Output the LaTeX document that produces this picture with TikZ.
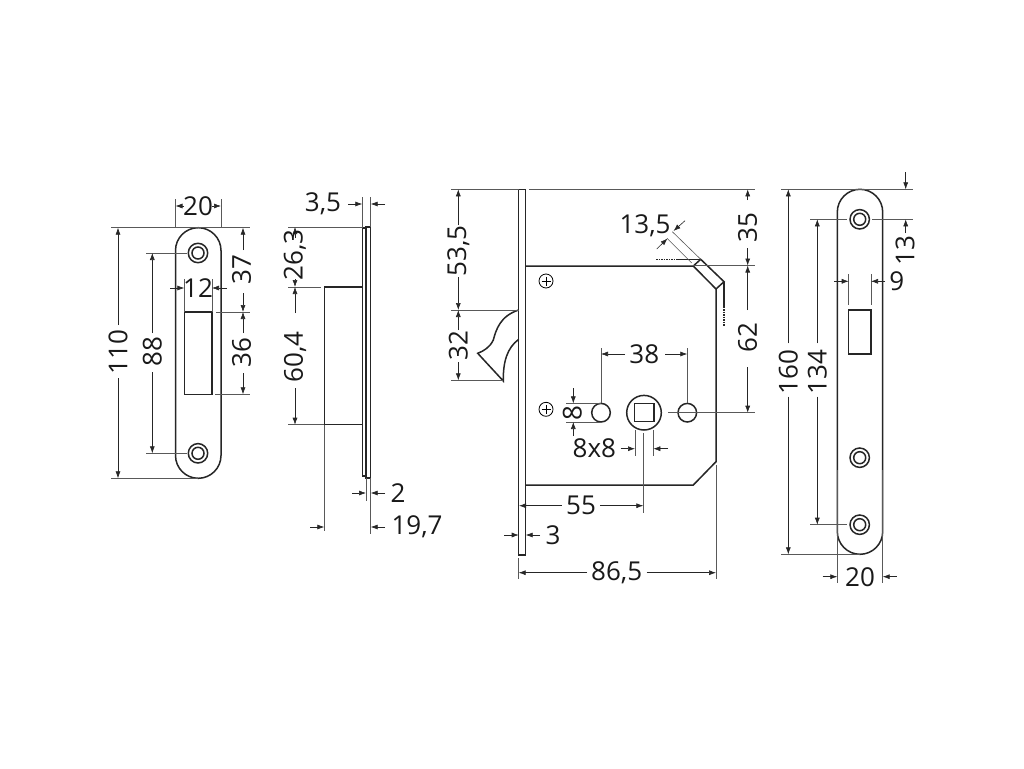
\documentclass[tikz,border=0pt]{standalone}
\usepackage{fontspec}
\setmainfont{Open Sans}
\usetikzlibrary{arrows.meta}
\tikzset{
    part/.style={line width=1.5pt,draw=black!85},
    extline/.style={line width=0.6pt,draw=black!65},
    dimline/.style={line width=0.6pt,draw=black!85,-{Latex[length=7pt,width=5pt]}},
    dimtext/.style={inner sep=0pt,font=\fontsize{26}{26}\selectfont,text=black!90},
    dimrot/.style={dimtext,rotate=90},
}
\begin{document}
\begin{tikzpicture}[x=1pt,y=-1pt]
    \useasboundingbox (0,0) rectangle (1024,768);
    \fill[white] (0,0) rectangle (1024,768);

    % strike plate, front
    \draw[part,rounded corners=22.8pt] (175.5,227.7) rectangle (221,478.3);
    \draw[part] (184.3,312) rectangle (212,394.3);
    \foreach \y in {253,453.3} {
        \draw[part] (198,\y) circle[radius=9.7pt];
        \draw[part] (198,\y) circle[radius=6pt];
    }
    \draw[extline] (175.5,199) -- (175.5,228);
    \draw[extline] (221,199) -- (221,228);
    \draw[dimline] (184,206) -- (175.5,206);
    \draw[dimline] (212,206) -- (221,206);
    \node[dimtext] (widthplate) at (198,206) {20};
    \draw[extline] (111,227.7) -- (250,227.7);
    \draw[extline] (111,478.3) -- (198,478.3);
    \draw[dimline] (118,325) -- (118,227.7);
    \draw[dimline] (118,378) -- (118,478.3);
    \node[dimrot] (heightplate) at (118,352) {110};
    \draw[extline] (146,253) -- (187,253);
    \draw[extline] (146,453.3) -- (187,453.3);
    \draw[dimline] (152.3,333) -- (152.3,253);
    \draw[dimline] (152.3,372) -- (152.3,453.3);
    \node[dimrot] (holesplate) at (152.3,352) {88};
    \draw[extline] (184.3,312) -- (184.3,279);
    \draw[extline] (212,312) -- (212,279);
    \draw[dimline] (170,288) -- (184.3,288);
    \draw[dimline] (227,288) -- (212,288);
    \node[dimtext] (widthslot) at (198,288) {12};
    \draw[extline] (216,312) -- (250,312);
    \draw[extline] (215,394.3) -- (250,394.3);
    \draw[dimline] (243,250) -- (243,227.7);
    \draw[dimline] (243,293) -- (243,312);
    \node[dimrot] (topslot) at (241.7,270) {37};
    \draw[dimline] (243,333) -- (243,312);
    \draw[dimline] (243,373) -- (243,394.3);
    \node[dimrot] (heightslot) at (241.7,353) {36};

    % strike plate, side
    \draw[part] (366,227) rectangle (370.7,478);
    \draw[part] (362.3,228) rectangle (366,476);
    \draw[part] (362.3,287) -- (324.3,287) -- (324.3,424.7) -- (362.3,424.7);
    \draw[extline] (362.3,197) -- (362.3,228);
    \draw[extline] (370.7,197) -- (370.7,227);
    \draw[dimline] (348,204) -- (362.3,204);
    \draw[dimline] (385,204) -- (370.7,204);
    \node[dimtext] (depthplate) at (323,204) {3,5};
    \draw[extline] (288,227) -- (362.3,227);
    \draw[extline] (288,287) -- (321,287);
    \draw[extline] (288,424.7) -- (324.3,424.7);
    \draw[dimline] (295,238) -- (295,227);
    \draw[dimline] (295,279) -- (295,287);
    \node[dimrot] (topbody) at (295,255) {26,3};
    \draw[dimline] (295,313) -- (295,287);
    \draw[dimline] (295,388) -- (295,424.7);
    \node[dimrot] (heightbody) at (295,357) {60,4};
    \draw[extline] (366,478) -- (366,501);
    \draw[extline] (370.7,478) -- (370.7,534);
    \draw[dimline] (352,493) -- (366,493);
    \draw[dimline] (385,493) -- (370.7,493);
    \node[dimtext] (thickplate) at (398,493) {2};
    \draw[extline] (324.3,425) -- (324.3,531);
    \draw[dimline] (310,527) -- (324.3,527);
    \draw[dimline] (385,527) -- (370.7,527);
    \node[dimtext] (depthbody) at (417,527) {19,7};

    % lock case
    \draw[part] (518.7,189.3) rectangle (525.7,555);
    \draw[part] (525.7,266) -- (693.3,266) -- (716,289) -- (716,461.7) -- (693.3,485) -- (525.7,485);
    \draw[part] (693.3,266) -- (700.7,259.3) -- (724,281.7) -- (716,289);
    \draw[part] (676.7,259.3) -- (700.7,259.3);
    \draw[part,densely dotted] (656,259.3) -- (676.7,259.3);
    \draw[part] (724,281.7) -- (724,306.7);
    \draw[part,densely dotted] (724,306.7) -- (724,326.7);
    % hook
    \draw[part] (518.7,310) .. controls (500,316) and (496,330) .. (493.3,340)
        .. controls (490,347) and (484,351) .. (477.7,353.3) -- (503.3,381)
        .. controls (503,362) and (507,348) .. (518.7,339.3);
    \foreach \y in {281,409.3} {
        \draw[line width=0.8pt] (546,\y) circle[radius=7pt];
        \draw[line width=0.8pt] (541.5,\y) -- (550.5,\y) (546,\y-4.5) -- (546,\y+4.5);
    }
    \draw[part] (601,412.7) circle[radius=9.3pt];
    \draw[part] (687.3,412.7) circle[radius=9.3pt];
    \draw[part] (644,412.7) circle[radius=17.3pt];
    \draw[part] (634.7,403.3) rectangle (654,421.7);

    \draw[extline] (451,189.3) -- (518.7,189.3);
    \draw[extline] (529.3,189.3) -- (755,189.3);
    \draw[extline] (451,310) -- (518.7,310);
    \draw[extline] (451,380.3) -- (503,380.3);
    \draw[dimline] (458.3,225) -- (458.3,189.3);
    \draw[dimline] (458.3,277) -- (458.3,310);
    \node[dimrot] (topbolt) at (458.3,250.7) {53,5};
    \draw[dimline] (458.3,330) -- (458.3,310);
    \draw[dimline] (458.3,362) -- (458.3,380.3);
    \node[dimrot] (heightbolt) at (458.3,345.7) {32};
    \draw[extline] (693,265.5) -- (755,265.5);
    \draw[dimline] (747.7,200) -- (747.7,189.3);
    \draw[dimline] (747.7,248) -- (747.7,265.5);
    \node[dimrot] (topcase) at (747.7,228) {35};
    \draw[dimline] (747.7,310) -- (747.7,265.5);
    \draw[dimline] (747.7,367) -- (747.7,412.7);
    \node[dimrot] (axiscase) at (747.7,338) {62};
    \draw[extline] (668,412.7) -- (755,412.7);
    \draw[extline] (672.3,231.7) -- (700.7,259.3);
    \draw[extline] (667,238.3) -- (691.7,263);
    \draw[dimline] (685,220.7) -- (673.5,231);
    \draw[dimline] (656.7,249) -- (667.5,238.5);
    \node[dimtext] (widthtab) at (645,225.7) {13,5};
    \draw[extline] (601,403) -- (601,348);
    \draw[extline] (687.3,403) -- (687.3,348);
    \draw[dimline] (625,354) -- (601,354);
    \draw[dimline] (665,354) -- (687.3,354);
    \node[dimtext] (holesdist) at (644.3,354) {38};
    \draw[extline] (566,403.4) -- (601,403.4);
    \draw[extline] (566,422) -- (601,422);
    \draw[dimline] (573.3,388) -- (573.3,403.4);
    \draw[dimline] (573.3,436) -- (573.3,422);
    \node[dimrot] (holesize) at (572.3,412.7) {8};
    \draw[extline] (635,430) -- (635,456);
    \draw[extline] (653.3,430) -- (653.3,456);
    \draw[dimline] (620.7,448.7) -- (635,448.7);
    \draw[dimline] (668,448.7) -- (653.3,448.7);
    \node[dimtext] (squaresize) at (594.3,448.7) {8x8};
    \draw[extline] (643.3,433) -- (643.3,512.7);
    \draw[dimline] (561.7,505.7) -- (519,505.7);
    \draw[dimline] (600,505.7) -- (643.3,505.7);
    \node[dimtext] (backset) at (581,505.7) {55};
    \draw[dimline] (504,535) -- (518.7,535);
    \draw[dimline] (540,535) -- (525.7,535);
    \node[dimtext] (thickface) at (553,535) {3};
    \draw[extline] (518.7,558) -- (518.7,579);
    \draw[extline] (716,465) -- (716,579);
    \draw[dimline] (587,572.7) -- (518.7,572.7);
    \draw[dimline] (646.7,572.7) -- (716,572.7);
    \node[dimtext] (depthcase) at (616.7,572.7) {86,5};

    % faceplate
    \draw[part,rounded corners=22.8pt] (837.3,189.3) rectangle (882.7,554.3);
    \draw[part] (848.7,310) rectangle (871,354);
    \foreach \y in {219.3,457.7,524.7} {
        \draw[part] (859.7,\y) circle[radius=9.7pt];
        \draw[part] (859.7,\y) circle[radius=6pt];
    }
    \draw[extline] (781,189.3) -- (913,189.3);
    \draw[extline] (781,554.3) -- (860,554.3);
    \draw[dimline] (788.3,343.3) -- (788.3,189.3);
    \draw[dimline] (788.3,396.7) -- (788.3,554.3);
    \node[dimrot] (heightface) at (788.3,372) {160};
    \draw[extline] (810,219.3) -- (846.7,219.3);
    \draw[extline] (872,219.3) -- (913,219.3);
    \draw[extline] (810,524.7) -- (846.7,524.7);
    \draw[dimline] (817.3,343.3) -- (817.3,219.3);
    \draw[dimline] (817.3,396.7) -- (817.3,524.7);
    \node[dimrot] (holesface) at (817.3,372) {134};
    \draw[dimline] (905.7,172) -- (905.7,189.3);
    \draw[dimline] (905.7,233) -- (905.7,219.3);
    \node[dimrot] (tophole) at (905,250.7) {13};
    \draw[extline] (848.7,274) -- (848.7,305);
    \draw[extline] (871,274) -- (871,305);
    \draw[dimline] (834,281.3) -- (848.7,281.3);
    \draw[dimline] (885,281.3) -- (871,281.3);
    \node[dimtext] (widthlatch) at (896.7,281.3) {9};
    \draw[extline] (837.3,470) -- (837.3,583);
    \draw[extline] (882.7,470) -- (882.7,583);
    \draw[dimline] (822.7,576.7) -- (837.3,576.7);
    \draw[dimline] (896.7,576.7) -- (882.7,576.7);
    \node[dimtext] (widthface) at (860,576.7) {20};
\end{tikzpicture}
\end{document}
